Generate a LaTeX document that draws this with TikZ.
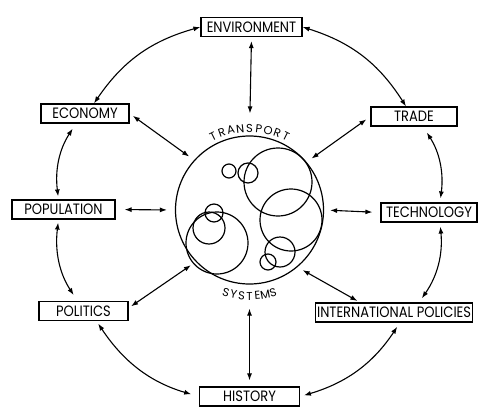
\documentclass[tikz,border=0pt]{standalone}
\usepackage{fontspec}
\newfontfamily\lblfont[FakeStretch=0.87]{Poppins}
\newfontfamily\arcfont{Poppins}
\usetikzlibrary{arrows.meta}

\tikzset{
	factor/.style={draw, line width=1.2pt, minimum height=19pt, inner sep=1.5pt,
		font=\lblfont\fontsize{15}{15}\selectfont},
	link/.style={{Latex[length=7pt,width=5pt]}-{Latex[length=7pt,width=5pt]}, line width=1.1pt},
	bubble/.style={line width=1.2pt},
	arcletter/.style={inner sep=0pt, font=\arcfont\fontsize{11.5}{11.5}\selectfont}
}

\begin{document}
\begin{tikzpicture}[x=1pt, y=1pt]
	\useasboundingbox (0,0) rectangle (478,408);

	% factors around the transport system
	\node[factor, minimum width=101pt] (env) at (251.5,381) {ENVIRONMENT};
	\node[factor, minimum width=88pt] (eco) at (85,294.5) {ECONOMY};
	\node[factor, minimum width=86pt] (trade) at (414,291.5) {TRADE};
	\node[factor, minimum width=103pt] (pop) at (63.5,198.5) {POPULATION};
	\node[factor, minimum width=96pt] (tech) at (429,195.5) {TECHNOLOGY};
	\node[factor, minimum width=89pt] (pol) at (83.5,97) {POLITICS};
	\node[factor, anchor=west] (ip) at (315,95.5) {INTERNATIONAL POLICIES};
	\node[factor, minimum width=100pt] (hist) at (249.5,11.5) {HISTORY};

	% transport systems
	\node[circle, draw, bubble, minimum size=148pt] (ts) at (249.5,198) {};
	\draw[bubble] (229,237) circle[radius=7];
	\draw[bubble] (248,235) circle[radius=10];
	\draw[bubble] (278,226) circle[radius=34];
	\draw[bubble] (291,188) circle[radius=31];
	\draw[bubble] (280,156) circle[radius=15];
	\draw[bubble] (268,146) circle[radius=8];
	\draw[bubble] (214,195) circle[radius=9];
	\draw[bubble] (209,180) circle[radius=16];
	\draw[bubble] (217,165) circle[radius=31];
	\foreach \ch [count=\i] in {T,R,A,N,S,P,O,R,T}
		\node[arcletter, rotate={33-6.6*\i}] (tp\i) at ([shift={({123-6.6*\i}:82)}]ts.center) {\ch};
	\foreach \ch [count=\i] in {S,Y,S,T,E,M,S}
		\node[arcletter, rotate={5.3*\i-21.2}] (sy\i) at ([shift={({248.8+5.3*\i}:86)}]ts.center) {\ch};

	% links
	\draw[link] (env.west) to[bend right=20] ([xshift=9pt]eco.north);
	\draw[link] (env.east) to[bend left=20] ([xshift=-8pt]trade.north);
	\draw[link, shorten <=4pt, shorten >=22pt] (env.south) -- (ts.north);
	\draw[link, shorten <=6pt, shorten >=3pt] ([xshift=-9pt]eco.south) to[bend right=20] ([xshift=-5pt]pop.north);
	\draw[link, shorten <=3pt, shorten >=7pt] ([xshift=-5pt]pop.south) to[bend right=20] ([xshift=-6pt]pol.north);
	\draw[link, shorten <=9pt, shorten >=8pt] (pop.east) -- (ts.west);
	\draw[link, shorten <=4pt, shorten >=6pt] (eco.east) -- (ts.138);
	\draw[link, shorten <=3pt, shorten >=6pt] ([yshift=3pt]pol.east) -- (ts.224);
	\draw[link, shorten <=5pt, shorten >=6pt] (trade.west) -- (ts.40);
	\draw[link, shorten <=7pt, shorten >=4pt] ([xshift=9pt]trade.south) to[bend left=20] ([xshift=11pt]tech.north);
	\draw[link, shorten <=8pt, shorten >=6pt] (tech.west) -- (ts.east);
	\draw[link, shorten <=4pt, shorten >=5pt] ([xshift=11pt]tech.south) to[bend left=20] ([xshift=104pt]ip.north west);
	\draw[link, shorten <=6pt, shorten >=3pt] (ts.-50) -- ([xshift=45pt]ip.north west);
	\draw[link, shorten <=24pt, shorten >=6pt] (ts.south) -- (hist.north);
	\draw[link, shorten <=3pt, shorten >=8pt] ([xshift=13pt]pol.south) to[bend right=20] (hist.west);
	\draw[link, shorten <=4pt, shorten >=5pt] (hist.east) to[bend right=20] ([xshift=85pt]ip.south west);
\end{tikzpicture}
\end{document}
